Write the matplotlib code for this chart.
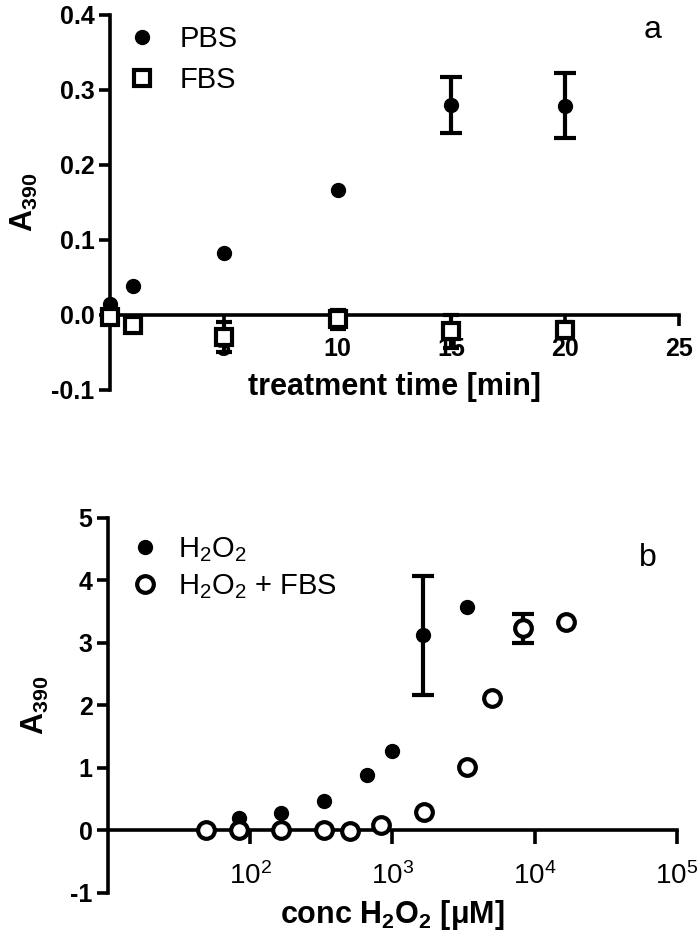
import numpy as np
import matplotlib
matplotlib.use("Agg")
import matplotlib.pyplot as plt
from matplotlib.ticker import FixedLocator, NullLocator

plt.rcParams['font.family'] = ['Liberation Sans', 'DejaVu Sans']
plt.rcParams['mathtext.fontset'] = 'custom'
plt.rcParams['mathtext.rm'] = 'Liberation Sans'
plt.rcParams['mathtext.default'] = 'regular'
plt.rcParams['axes.unicode_minus'] = False

# panel a data
time_min = [0, 1, 5, 10, 15, 20]
pbs = [0.015, 0.038, 0.083, 0.167, 0.280, 0.279]
pbs_err = [0.0, 0.0, 0.0, 0.0, 0.037, 0.043]
fbs = [-0.003, -0.013, -0.030, -0.006, -0.022, -0.020]
fbs_err = [0.008, 0.004, 0.020, 0.013, 0.022, 0.010]

# panel b data
conc_h2o2 = [83, 166, 332, 665, 993, 1640, 3340]
a_h2o2 = [0.19, 0.28, 0.47, 0.89, 1.27, 3.12, 3.57]
a_h2o2_err = [0, 0, 0, 0, 0, 0.95, 0]
conc_fbs = [49, 84, 166, 332, 505, 828, 1675, 3340, 5050, 8280, 16750]
a_fbs = [0.0, 0.01, 0.0, 0.0, -0.01, 0.09, 0.29, 1.02, 2.12, 3.23, 3.34]
a_fbs_err = [0, 0, 0, 0, 0, 0, 0, 0, 0, 0.23, 0]

lw = 2.6


def errbars(ax, x, y, e, cap):
    x, y, e = np.array(x), np.array(y), np.array(e)
    m = e > 0
    ax.errorbar(x[m], y[m], yerr=e[m], fmt='none', ecolor='black',
                elinewidth=3, capsize=cap, capthick=3, clip_on=False,
                zorder=4)


def style_axes(ax, bold_x=True):
    for s in ['top', 'right']:
        ax.spines[s].set_visible(False)
    ax.spines['left'].set_linewidth(lw)
    ax.spines['bottom'].set_linewidth(lw)
    ax.spines['bottom'].set_position(('data', 0))
    ax.tick_params(axis='both', width=lw, length=8, direction='out')
    ax.tick_params(axis='x', labelsize=18, pad=8)
    ax.tick_params(axis='y', labelsize=18, pad=3)
    for t in ax.get_yticklabels():
        t.set_fontweight('bold')
    if bold_x:
        for t in ax.get_xticklabels():
            t.set_fontweight('bold')


fig = plt.figure(figsize=(7, 9.33), dpi=100)

# ---- panel a
ax1 = fig.add_axes([0.157, 0.582, 0.813, 0.402])
errbars(ax1, time_min, pbs, pbs_err, 8)
errbars(ax1, time_min, fbs, fbs_err, 6)
ax1.plot(time_min, pbs, 'o', color='black', ms=10, clip_on=False,
         zorder=5, label='PBS')
ax1.plot(time_min, fbs, 's', ms=12, mfc='white', mec='black', mew=3,
         clip_on=False, zorder=6, label='FBS')
ax1.set_xlim(0, 25)
ax1.set_ylim(-0.1, 0.4)
ax1.xaxis.set_major_locator(FixedLocator([5, 10, 15, 20, 25]))
ax1.set_yticks([-0.1, 0.0, 0.1, 0.2, 0.3, 0.4])
ax1.set_yticklabels(['-0.1', '0.0', '0.1', '0.2', '0.3', '0.4'])
style_axes(ax1)
ax1.set_xlabel('treatment time [min]', fontsize=22, fontweight='bold',
               labelpad=8)
ax1.set_ylabel('A$_{390}$', fontsize=22, fontweight='bold', labelpad=8)
ax1.legend(loc='upper left', frameon=False, fontsize=21,
           handletextpad=0.8, borderaxespad=0.0, labelspacing=0.45,
           handlelength=1.0, bbox_to_anchor=(0.01, 1.005))
ax1.text(0.97, 0.96, 'a', transform=ax1.transAxes, fontsize=23,
         ha='right', va='center')

# ---- panel b
ax2 = fig.add_axes([0.154, 0.043, 0.813, 0.402])
ax2.set_xscale('log')
errbars(ax2, conc_h2o2, a_h2o2, a_h2o2_err, 8)
errbars(ax2, conc_fbs, a_fbs, a_fbs_err, 8)
ax2.plot(conc_h2o2, a_h2o2, 'o', color='black', ms=10, clip_on=False,
         zorder=5, label='H$_2$O$_2$')
ax2.plot(conc_fbs, a_fbs, 'o', ms=12, mfc='white', mec='black', mew=3,
         clip_on=False, zorder=6, label='H$_2$O$_2$ + FBS')
ax2.set_xlim(10, 1e5)
ax2.set_ylim(-1, 5)
ax2.xaxis.set_major_locator(FixedLocator([1e2, 1e3, 1e4, 1e5]))
ax2.xaxis.set_minor_locator(NullLocator())
ax2.set_xticklabels(['$10^{2}$', '$10^{3}$', '$10^{4}$', '$10^{5}$'])
ax2.set_yticks([-1, 0, 1, 2, 3, 4, 5])
style_axes(ax2, bold_x=False)
ax2.tick_params(axis='x', labelsize=20, pad=13, length=10)
ax2.set_xlabel('conc H$_2$O$_2$ [μM]', fontsize=22, fontweight='bold',
               labelpad=6)
ax2.set_ylabel('A$_{390}$', fontsize=22, fontweight='bold', labelpad=14)
ax2.legend(loc='upper left', frameon=False, fontsize=21,
           handletextpad=0.6, borderaxespad=0.0, labelspacing=0.3,
           handlelength=1.0, bbox_to_anchor=(0.02, 0.985))
ax2.text(0.965, 0.893, 'b', transform=ax2.transAxes, fontsize=23,
         ha='right', va='center')

fig.savefig('out.png', dpi=100)
